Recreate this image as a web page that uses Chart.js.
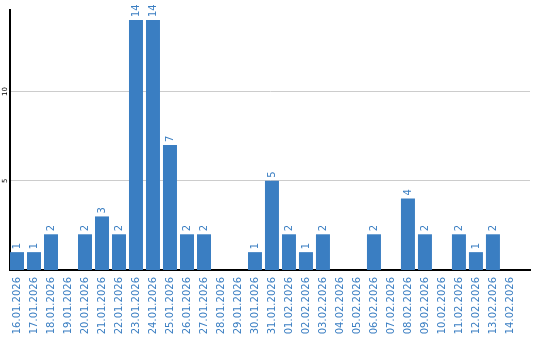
<!DOCTYPE html>
<html lang="en">
<head>
    <meta charset="UTF-8">
    <title>Daily counts</title>
    <script src="https://cdn.jsdelivr.net/npm/chart.js"></script>
    <style>
        body { margin: 0; padding: 0; background: #ffffff; }
        #wrap { width: 540px; height: 340px; }
    </style>
</head>
<body>
    <div id="wrap"><canvas id="chart" width="540" height="340"></canvas></div>
    <script>
        const days = [
            '16.01.2026', '17.01.2026', '18.01.2026', '19.01.2026', '20.01.2026',
            '21.01.2026', '22.01.2026', '23.01.2026', '24.01.2026', '25.01.2026',
            '26.01.2026', '27.01.2026', '28.01.2026', '29.01.2026', '30.01.2026',
            '31.01.2026', '01.02.2026', '02.02.2026', '03.02.2026', '04.02.2026',
            '05.02.2026', '06.02.2026', '07.02.2026', '08.02.2026', '09.02.2026',
            '10.02.2026', '11.02.2026', '12.02.2026', '13.02.2026', '14.02.2026'
        ];
        const counts = [1, 1, 2, 0, 2, 3, 2, 14, 14, 7, 2, 2, 0, 0, 1, 5, 2, 1, 2, 0, 0, 2, 0, 4, 2, 0, 2, 1, 2, 0];
        const yTicks = [5, 10];

        const blue = '#3a7ec2';

        // value labels above bars + y tick labels, both rotated
        const rotatedText = {
            id: 'rotatedText',
            afterDatasetsDraw(chart) {
                const ctx = chart.ctx;
                const meta = chart.getDatasetMeta(0);
                ctx.save();
                ctx.fillStyle = blue;
                ctx.font = '10px "DejaVu Sans"';
                ctx.textAlign = 'left';
                ctx.textBaseline = 'middle';
                meta.data.forEach((bar, i) => {
                    if (!counts[i]) return;
                    ctx.save();
                    ctx.translate(bar.x, bar.y - 3);
                    ctx.rotate(-Math.PI / 2);
                    ctx.fillText(String(counts[i]), 0, 0);
                    ctx.restore();
                });
                const y = chart.scales.y;
                ctx.fillStyle = '#000000';
                ctx.font = '7px "DejaVu Sans"';
                ctx.textAlign = 'center';
                yTicks.forEach(v => {
                    ctx.save();
                    ctx.translate(5, y.getPixelForValue(v));
                    ctx.rotate(-Math.PI / 2);
                    ctx.fillText(String(v), 0, 0);
                    ctx.restore();
                });
                ctx.restore();
            }
        };

        new Chart(document.getElementById('chart'), {
            type: 'bar',
            data: {
                datasets: [{
                    data: counts.map((c, i) => ({ x: i, y: c })),
                    backgroundColor: blue,
                    categoryPercentage: 1,
                    barPercentage: 14 / 17
                }]
            },
            options: {
                responsive: false,
                animation: false,
                layout: { padding: { top: 10, right: 10, left: 0, bottom: 0 } },
                plugins: { legend: { display: false }, tooltip: { enabled: false } },
                scales: {
                    x: {
                        type: 'linear',
                        offset: false,
                        min: -7 / 17,
                        max: 30.18,
                        grid: { display: false, drawTicks: false },
                        border: { color: '#000000', width: 2 },
                        ticks: {
                            stepSize: 1,
                            includeBounds: false,
                            color: blue,
                            font: { family: 'DejaVu Sans', size: 10 },
                            minRotation: 90,
                            maxRotation: 90,
                            padding: 7,
                            autoSkip: false,
                            callback: v => days[v] || ''
                        },
                        afterFit(s) {
                            s.height = 70;
                            s.paddingLeft = 0;
                            s.paddingRight = 0;
                        }
                    },
                    y: {
                        min: 0,
                        max: 14.56,
                        grid: { color: '#cccccc', drawTicks: false },
                        border: { color: '#000000', width: 2 },
                        ticks: { display: false, stepSize: 5 },
                        afterBuildTicks(s) {
                            s.ticks = s.ticks.filter(t => yTicks.includes(t.value));
                        },
                        afterFit(s) { s.width = 10; }
                    }
                }
            },
            plugins: [rotatedText]
        });
    </script>
</body>
</html>
